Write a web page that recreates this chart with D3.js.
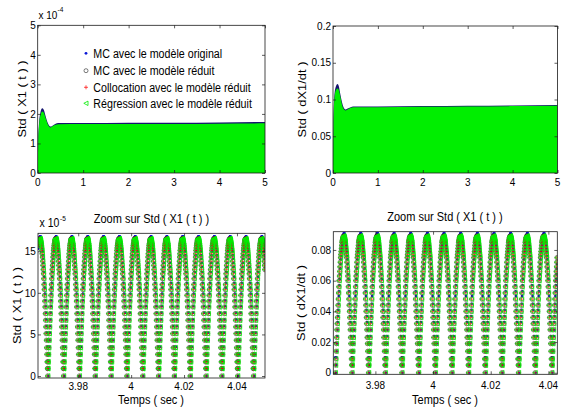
<!DOCTYPE html>
<html><head><meta charset="utf-8">
<script src="https://cdn.jsdelivr.net/npm/d3@7"></script>
<style>
body{margin:0;background:#fff}
svg text{font-family:"Liberation Sans",Arial,Helvetica,sans-serif;fill:#000}
</style>
</head><body>
<svg id="c" width="569" height="410"></svg>
<script>
// ---------------- DATA ----------------
const legendLabels = ["MC avec le modèle original","MC avec le modèle réduit","Collocation avec le modèle réduit","Régression avec le modèle réduit"];
const titleZoom = "Zoom sur Std ( X1 ( t ) )";
const xLabel = "Temps ( sec )";
const yLabelX1 = "Std ( X1 ( t ) )";
const yLabelDX1 = "Std ( dX1/dt )";

// top panels: envelope of Std over 0..5 s
const envTime = [0,0.01,0.03,0.06,0.1,0.13,0.17,0.22,0.28,0.34,0.45,1,2,3,4,5];
const envX1Original = [0,1.0,1.7,2.05,2.19,2.15,1.95,1.7,1.57,1.62,1.69,1.69,1.70,1.70,1.71,1.73]; // x 1e-4
const envX1Reduit   = [0,0.9,1.6,1.95,2.08,2.05,1.88,1.65,1.54,1.6,1.65,1.66,1.66,1.66,1.67,1.68]; // x 1e-4
const envDX1Original = [0,0.065,0.105,0.117,0.121,0.118,0.105,0.092,0.0865,0.088,0.0905,0.0905,0.091,0.0915,0.092,0.0925];
const envDX1Reduit   = [0,0.06,0.1,0.112,0.115,0.113,0.102,0.089,0.085,0.087,0.0895,0.0895,0.09,0.0905,0.091,0.0915];

const topXTicks = [0,1,2,3,4,5];
const tlYTicks = [0,1,2,3,4,5];
const trYTicks = [0,0.05,0.1,0.15,0.2];
const zoomXTicks = [3.98,4,4.02,4.04];
const blYTicks = [0,50,100,150];   // x 1e-6  -> labelled in 1e-5
const brYTicks = [0,20,40,60,80];  // x 1e-3

// bottom-left zoom: Std(X1), sampled from t0 with step dt, values x 1e-6
const zoomX1T0 = 3.96488, zoomX1Dt = 0.0000997;
const zoomX1Original = [
153,157,160,162,164,166,167,168,168,168,167,166,164,162,160,157,153,150,145,141,136,131,125,119,112,106,99,91,84,76,68,60,52,43,35,26,18,9,
0,9,18,26,35,43,52,60,68,76,84,91,99,106,112,119,125,131,136,141,145,150,153,157,160,162,164,166,167,168,168,168,167,166,164,162,160,157,153,150,145,141,136,131,125,119,112,106,99,91,84,76,68,60,52,43,35,26,18,9,
0,9,18,26,35,43,52,60,68,76,84,91,99,106,112,119,125,131,136,141,145,150,153,157,160,162,164,166,167,168,168,168,167,166,164,162,160,157,153,150,145,141,136,131,125,119,112,106,99,91,84,76,68,60,52,43,35,26,18,9,
0,9,18,26,35,43,52,60,68,76,84,91,99,106,112,119,125,131,136,141,145,150,153,157,160,162,164,166,167,168,168,168,167,166,164,162,160,157,153,150,145,141,136,131,125,119,112,106,99,91,84,76,68,60,52,43,35,26,18,9,
0,9,18,26,35,43,52,60,68,76,84,91,99,106,112,119,125,131,136,141,145,150,153,157,160,162,164,166,167,168,168,168,167,166,164,162,160,157,153,150,145,141,136,131,125,119,112,106,99,91,84,76,68,60,52,43,35,26,18,9,
0,9,18,26,35,43,52,60,68,76,84,91,99,106,112,119,125,131,136,141,145,150,153,157,160,162,164,166,167,168,168,168,167,166,164,162,160,157,153,150,145,141,136,131,125,119,112,106,99,91,84,76,68,60,52,43,35,26,18,9,
0,9,18,26,35,43,52,60,68,76,84,91,99,106,112,119,125,131,136,141,145,150,153,157,160,162,164,166,167,168,168,168,167,166,164,162,160,157,153,150,145,141,136,131,125,119,112,106,99,91,84,76,68,60,52,43,35,26,18,9,
0,9,18,26,35,43,52,60,68,76,84,91,99,106,112,119,125,131,136,141,145,150,153,157,160,162,164,166,167,168,168,168,167,166,164,162,160,157,153,150,145,141,136,131,125,119,112,106,99,91,84,76,68,60,52,43,35,26,18,9,
0,9,18,26,35,43,52,60,68,76,84,91,99,106,112,119,125,131,136,141,145,150,153,157,160,162,164,166,167,168,168,168,167,166,164,162,160,157,153,150,145,141,136,131,125,119,112,106,99,91,84,76,68,60,52,43,35,26,18,9,
0,9,18,26,35,43,52,60,68,76,84,91,99,106,112,119,125,131,136,141,145,150,153,157,160,162,164,166,167,168,168,168,167,166,164,162,160,157,153,150,145,141,136,131,125,119,112,106,99,91,84,76,68,60,52,43,35,26,18,9,
0,9,18,26,35,43,52,60,68,76,84,91,99,106,112,119,125,131,136,141,145,150,153,157,160,162,164,166,167,168,168,168,167,166,164,162,160,157,153,150,145,141,136,131,125,119,112,106,99,91,84,76,68,60,52,43,35,26,18,9,
0,9,18,26,35,43,52,60,68,76,84,91,99,106,112,119,125,131,136,141,145,150,153,157,160,162,164,166,167,168,168,168,167,166,164,162,160,157,153,150,145,141,136,131,125,119,112,106,99,91,84,76,68,60,52,43,35,26,18,9,
0,9,18,26,35,43,52,60,68,76,84,91,99,106,112,119,125,131,136,141,145,150,153,157,160,162,164,166,167,168,168,168,167,166,164,162,160,157,153,150,145,141,136,131,125,119,112,106,99,91,84,76,68,60,52,43,35,26,18,9,
0,9,18,26,35,43,52,60,68,76,84,91,99,106,112,119,125,131,136,141,145,150,153,157,160,162,164,166,167,168,168,168,167,166,164,162,160,157,153,150,145,141,136,131,125,119,112,106,99,91,84,76,68,60,52,43,35,26,18,9,
0,9,18,26,35,43,52,60,68,76,84,91,99,106,112,119,125,131,136,141,145,150,153,157,160,162,164,166,167,168,168,168,167,166,164,162,160,157,153,150,145,141];
// MC réduit, Collocation and Régression coincide on the picture
const zoomX1Reduit = [
157,159,161,163,164,165,165,165,164,163,161,159,157,154,151,147,143,138,133,128,123,117,110,104,97,90,83,75,67,59,51,43,34,26,17,9,
0,9,17,26,34,43,51,59,67,75,83,90,97,104,110,117,123,128,133,138,143,147,151,154,157,159,161,163,164,165,165,165,164,163,161,159,157,154,151,147,143,138,133,128,123,117,110,104,97,90,83,75,67,59,51,43,34,26,17,9,
0,9,17,26,34,43,51,59,67,75,83,90,97,104,110,117,123,128,133,138,143,147,151,154,157,159,161,163,164,165,165,165,164,163,161,159,157,154,151,147,143,138,133,128,123,117,110,104,97,90,83,75,67,59,51,43,34,26,17,9,
0,9,17,26,34,43,51,59,67,75,83,90,97,104,110,117,123,128,133,138,143,147,151,154,157,159,161,163,164,165,165,165,164,163,161,159,157,154,151,147,143,138,133,128,123,117,110,104,97,90,83,75,67,59,51,43,34,26,17,9,
0,9,17,26,34,43,51,59,67,75,83,90,97,104,110,117,123,128,133,138,143,147,151,154,157,159,161,163,164,165,165,165,164,163,161,159,157,154,151,147,143,138,133,128,123,117,110,104,97,90,83,75,67,59,51,43,34,26,17,9,
0,9,17,26,34,43,51,59,67,75,83,90,97,104,110,117,123,128,133,138,143,147,151,154,157,159,161,163,164,165,165,165,164,163,161,159,157,154,151,147,143,138,133,128,123,117,110,104,97,90,83,75,67,59,51,43,34,26,17,9,
0,9,17,26,34,43,51,59,67,75,83,90,97,104,110,117,123,128,133,138,143,147,151,154,157,159,161,163,164,165,165,165,164,163,161,159,157,154,151,147,143,138,133,128,123,117,110,104,97,90,83,75,67,59,51,43,34,26,17,9,
0,9,17,26,34,43,51,59,67,75,83,90,97,104,110,117,123,128,133,138,143,147,151,154,157,159,161,163,164,165,165,165,164,163,161,159,157,154,151,147,143,138,133,128,123,117,110,104,97,90,83,75,67,59,51,43,34,26,17,9,
0,9,17,26,34,43,51,59,67,75,83,90,97,104,110,117,123,128,133,138,143,147,151,154,157,159,161,163,164,165,165,165,164,163,161,159,157,154,151,147,143,138,133,128,123,117,110,104,97,90,83,75,67,59,51,43,34,26,17,9,
0,9,17,26,34,43,51,59,67,75,83,90,97,104,110,117,123,128,133,138,143,147,151,154,157,159,161,163,164,165,165,165,164,163,161,159,157,154,151,147,143,138,133,128,123,117,110,104,97,90,83,75,67,59,51,43,34,26,17,9,
0,9,17,26,34,43,51,59,67,75,83,90,97,104,110,117,123,128,133,138,143,147,151,154,157,159,161,163,164,165,165,165,164,163,161,159,157,154,151,147,143,138,133,128,123,117,110,104,97,90,83,75,67,59,51,43,34,26,17,9,
0,9,17,26,34,43,51,59,67,75,83,90,97,104,110,117,123,128,133,138,143,147,151,154,157,159,161,163,164,165,165,165,164,163,161,159,157,154,151,147,143,138,133,128,123,117,110,104,97,90,83,75,67,59,51,43,34,26,17,9,
0,9,17,26,34,43,51,59,67,75,83,90,97,104,110,117,123,128,133,138,143,147,151,154,157,159,161,163,164,165,165,165,164,163,161,159,157,154,151,147,143,138,133,128,123,117,110,104,97,90,83,75,67,59,51,43,34,26,17,9,
0,9,17,26,34,43,51,59,67,75,83,90,97,104,110,117,123,128,133,138,143,147,151,154,157,159,161,163,164,165,165,165,164,163,161,159,157,154,151,147,143,138,133,128,123,117,110,104,97,90,83,75,67,59,51,43,34,26,17,9,
0,9,17,26,34,43,51,59,67,75,83,90,97,104,110,117,123,128,133,138,143,147,151,154,157,159,161,163,164,165,165,165,164,163,161,159,157,154,151,147,143,138,133,128];

// bottom-right zoom: Std(dX1/dt), values x 1e-3
const zoomDX1T0 = 3.96608, zoomDX1Dt = 0.0000963;
const zoomDX1Original = [
10,5,
0,5,10,14,19,24,28,33,37,41,45,50,53,57,61,64,68,71,74,76,79,81,83,85,87,88,89,90,90,91,91,91,90,90,89,88,87,85,83,81,79,76,74,71,68,64,61,57,53,50,45,41,37,33,28,24,19,14,10,5,
0,5,10,14,19,24,28,33,37,41,45,50,53,57,61,64,68,71,74,76,79,81,83,85,87,88,89,90,90,91,91,91,90,90,89,88,87,85,83,81,79,76,74,71,68,64,61,57,53,50,45,41,37,33,28,24,19,14,10,5,
0,5,10,14,19,24,28,33,37,41,45,50,53,57,61,64,68,71,74,76,79,81,83,85,87,88,89,90,90,91,91,91,90,90,89,88,87,85,83,81,79,76,74,71,68,64,61,57,53,50,45,41,37,33,28,24,19,14,10,5,
0,5,10,14,19,24,28,33,37,41,45,50,53,57,61,64,68,71,74,76,79,81,83,85,87,88,89,90,90,91,91,91,90,90,89,88,87,85,83,81,79,76,74,71,68,64,61,57,53,50,45,41,37,33,28,24,19,14,10,5,
0,5,10,14,19,24,28,33,37,41,45,50,53,57,61,64,68,71,74,76,79,81,83,85,87,88,89,90,90,91,91,91,90,90,89,88,87,85,83,81,79,76,74,71,68,64,61,57,53,50,45,41,37,33,28,24,19,14,10,5,
0,5,10,14,19,24,28,33,37,41,45,50,53,57,61,64,68,71,74,76,79,81,83,85,87,88,89,90,90,91,91,91,90,90,89,88,87,85,83,81,79,76,74,71,68,64,61,57,53,50,45,41,37,33,28,24,19,14,10,5,
0,5,10,14,19,24,28,33,37,41,45,50,53,57,61,64,68,71,74,76,79,81,83,85,87,88,89,90,90,91,91,91,90,90,89,88,87,85,83,81,79,76,74,71,68,64,61,57,53,50,45,41,37,33,28,24,19,14,10,5,
0,5,10,14,19,24,28,33,37,41,45,50,53,57,61,64,68,71,74,76,79,81,83,85,87,88,89,90,90,91,91,91,90,90,89,88,87,85,83,81,79,76,74,71,68,64,61,57,53,50,45,41,37,33,28,24,19,14,10,5,
0,5,10,14,19,24,28,33,37,41,45,50,53,57,61,64,68,71,74,76,79,81,83,85,87,88,89,90,90,91,91,91,90,90,89,88,87,85,83,81,79,76,74,71,68,64,61,57,53,50,45,41,37,33,28,24,19,14,10,5,
0,5,10,14,19,24,28,33,37,41,45,50,53,57,61,64,68,71,74,76,79,81,83,85,87,88,89,90,90,91,91,91,90,90,89,88,87,85,83,81,79,76,74,71,68,64,61,57,53,50,45,41,37,33,28,24,19,14,10,5,
0,5,10,14,19,24,28,33,37,41,45,50,53,57,61,64,68,71,74,76,79,81,83,85,87,88,89,90,90,91,91,91,90,90,89,88,87,85,83,81,79,76,74,71,68,64,61,57,53,50,45,41,37,33,28,24,19,14,10,5,
0,5,10,14,19,24,28,33,37,41,45,50,53,57,61,64,68,71,74,76,79,81,83,85,87,88,89,90,90,91,91,91,90,90,89,88,87,85,83,81,79,76,74,71,68,64,61,57,53,50,45,41,37,33,28,24,19,14,10,5,
0,5,10,14,19,24,28,33,37,41,45,50,53,57,61,64,68,71,74,76,79,81,83,85,87,88,89,90,90,91,91,91,90,90,89,88,87,85,83,81,79,76,74,71,68,64,61,57,53,50,45,41,37,33,28,24,19,14,10,5,
0,5,10,14,19,24,28,33,37,41,45,50,53,57,61,64,68,71];
const zoomDX1Reduit = [
0,5,9,14,19,23,28,32,36,40,44,48,52,56,60,63,66,69,72,75,77,79,81,83,85,86,87,88,88,89,89,89,88,88,87,86,85,83,81,79,77,75,72,69,66,63,60,56,52,48,44,40,36,32,28,23,19,14,9,5,
0,5,9,14,19,23,28,32,36,40,44,48,52,56,60,63,66,69,72,75,77,79,81,83,85,86,87,88,88,89,89,89,88,88,87,86,85,83,81,79,77,75,72,69,66,63,60,56,52,48,44,40,36,32,28,23,19,14,9,5,
0,5,9,14,19,23,28,32,36,40,44,48,52,56,60,63,66,69,72,75,77,79,81,83,85,86,87,88,88,89,89,89,88,88,87,86,85,83,81,79,77,75,72,69,66,63,60,56,52,48,44,40,36,32,28,23,19,14,9,5,
0,5,9,14,19,23,28,32,36,40,44,48,52,56,60,63,66,69,72,75,77,79,81,83,85,86,87,88,88,89,89,89,88,88,87,86,85,83,81,79,77,75,72,69,66,63,60,56,52,48,44,40,36,32,28,23,19,14,9,5,
0,5,9,14,19,23,28,32,36,40,44,48,52,56,60,63,66,69,72,75,77,79,81,83,85,86,87,88,88,89,89,89,88,88,87,86,85,83,81,79,77,75,72,69,66,63,60,56,52,48,44,40,36,32,28,23,19,14,9,5,
0,5,9,14,19,23,28,32,36,40,44,48,52,56,60,63,66,69,72,75,77,79,81,83,85,86,87,88,88,89,89,89,88,88,87,86,85,83,81,79,77,75,72,69,66,63,60,56,52,48,44,40,36,32,28,23,19,14,9,5,
0,5,9,14,19,23,28,32,36,40,44,48,52,56,60,63,66,69,72,75,77,79,81,83,85,86,87,88,88,89,89,89,88,88,87,86,85,83,81,79,77,75,72,69,66,63,60,56,52,48,44,40,36,32,28,23,19,14,9,5,
0,5,9,14,19,23,28,32,36,40,44,48,52,56,60,63,66,69,72,75,77,79,81,83,85,86,87,88,88,89,89,89,88,88,87,86,85,83,81,79,77,75,72,69,66,63,60,56,52,48,44,40,36,32,28,23,19,14,9,5,
0,5,9,14,19,23,28,32,36,40,44,48,52,56,60,63,66,69,72,75,77,79,81,83,85,86,87,88,88,89,89,89,88,88,87,86,85,83,81,79,77,75,72,69,66,63,60,56,52,48,44,40,36,32,28,23,19,14,9,5,
0,5,9,14,19,23,28,32,36,40,44,48,52,56,60,63,66,69,72,75,77,79,81,83,85,86,87,88,88,89,89,89,88,88,87,86,85,83,81,79,77,75,72,69,66,63,60,56,52,48,44,40,36,32,28,23,19,14,9,5,
0,5,9,14,19,23,28,32,36,40,44,48,52,56,60,63,66,69,72,75,77,79,81,83,85,86,87,88,88,89,89,89,88,88,87,86,85,83,81,79,77,75,72,69,66,63,60,56,52,48,44,40,36,32,28,23,19,14,9,5,
0,5,9,14,19,23,28,32,36,40,44,48,52,56,60,63,66,69,72,75,77,79,81,83,85,86,87,88,88,89,89,89,88,88,87,86,85,83,81,79,77,75,72,69,66,63,60,56,52,48,44,40,36,32,28,23,19,14,9,5,
0,5,9,14,19,23,28,32,36,40,44,48,52,56,60,63,66,69,72,75,77,79,81,83,85,86,87,88,88,89,89,89,88,88,87,86,85,83,81,79,77,75,72,69,66,63,60,56,52,48,44,40,36,32,28,23,19,14,9,5,
0,5,9,14,19,23,28,32,36,40,44,48,52,56,60,63,66,69,72,75];

// ---------------- DRAWING ----------------
const svg = d3.select("#c");
const BLUE = "#0a16d6", GREEN = "#00ee00", NAVY = "#14146e";

function hText(g, x, y, s, size, anchor) {
  return g.append("text").attr("transform", `translate(${x},${y}) scale(1,1.15)`)
    .attr("font-size", size).attr("text-anchor", anchor || "middle").text(s);
}
function vText(g, x, y, s, size) {
  return g.append("text").attr("transform", `translate(${x},${y}) rotate(-90) scale(1.17,1)`)
    .attr("font-size", size).attr("text-anchor", "middle").text(s);
}

function panel(c) {
  const x = d3.scaleLinear().domain(c.xd).range([c.x0, c.x1]);
  const y = d3.scaleLinear().domain(c.yd).range([c.y0, c.y1]);
  const g = svg.append("g");
  const cid = "clip-" + c.id;
  svg.append("clipPath").attr("id", cid).append("rect")
    .attr("x", c.x0).attr("y", c.y1).attr("width", c.x1 - c.x0).attr("height", c.y0 - c.y1);
  const plot = g.append("g").attr("clip-path", `url(#${cid})`);
  c.draw(plot, x, y);
  // box
  g.append("rect").attr("x", c.x0).attr("y", c.y1).attr("width", c.x1 - c.x0).attr("height", c.y0 - c.y1)
    .attr("fill", "none").attr("stroke", "#1a1a1a").attr("stroke-width", 0.8);
  // inward ticks on all four sides
  const ax = [
    [d3.axisBottom(x).tickValues(c.xt), `translate(0,${c.y0})`],
    [d3.axisTop(x).tickValues(c.xt), `translate(0,${c.y1})`],
    [d3.axisLeft(y).tickValues(c.yt), `translate(${c.x0},0)`],
    [d3.axisRight(y).tickValues(c.yt), `translate(${c.x1},0)`]
  ];
  ax.forEach(([a, tr]) => {
    const ag = g.append("g").attr("transform", tr).call(a.tickSize(-3).tickFormat(""));
    ag.select(".domain").remove();
    ag.selectAll("line").attr("stroke", "#1a1a1a").attr("stroke-width", 0.7);
    ag.selectAll("text").remove();
  });
  // tick labels
  c.xt.forEach(v => hText(g, x(v), c.xlabY, c.xfmt(v), 10, "middle"));
  c.yt.forEach(v => hText(g, c.ylabX, y(v) + 3.7, c.yfmt(v), 10, "end"));
  return {x, y, g};
}

function drawEnvelope(plot, x, y, orig, red) {
  const area = vals => d3.area().x((d, i) => x(envTime[i])).y0(y(0)).y1(d => y(d)).curve(d3.curveMonotoneX)(vals);
  plot.append("path").attr("d", area(orig)).attr("fill", NAVY);
  plot.append("path").attr("d", area(red)).attr("fill", GREEN);
}

function drawMarkers(plot, x, y, t0, dt, orig, red) {
  const px = i => x(t0 + i * dt);
  plot.append("g").selectAll("circle").data(orig).join("circle")
    .attr("cx", (d, i) => px(i)).attr("cy", d => y(d)).attr("r", 1.3).attr("fill", BLUE);
  plot.append("g").selectAll("circle").data(red).join("circle")
    .attr("cx", (d, i) => px(i)).attr("cy", d => y(d)).attr("r", 2.2).attr("fill", "none")
    .attr("stroke", "#2a2a2a").attr("stroke-width", 0.55);
  plot.append("g").selectAll("path").data(red).join("path")
    .attr("d", (d, i) => `M${px(i) - 2.2},${y(d)}h4.4M${px(i)},${y(d) - 2.2}v4.4`)
    .attr("stroke", "#ff0000").attr("stroke-width", 0.6);
  plot.append("g").selectAll("path").data(red).join("path")
    .attr("d", (d, i) => { const cx = px(i), cy = y(d); return `M${cx - 2.4},${cy}L${cx + 2.2},${cy - 2.4}L${cx + 2.2},${cy + 2.4}Z`; })
    .attr("fill", "none").attr("stroke", GREEN).attr("stroke-width", 0.75);
}

const fmtZoomX = v => v === 4 ? "4" : v.toFixed(2);

// top-left
const TL = panel({id:"tl", x0:37.7, x1:265, y0:173, y1:25.3, xd:[0,5], yd:[0,5],
  xt:topXTicks, yt:tlYTicks, xfmt:v=>String(v), yfmt:v=>String(v), xlabY:185.5, ylabX:35.8,
  draw:(p,x,y)=>drawEnvelope(p,x,y,envX1Original,envX1Reduit)});
// top-right
const TR = panel({id:"tr", x0:333, x1:557.5, y0:173, y1:26, xd:[0,5], yd:[0,0.2],
  xt:topXTicks, yt:trYTicks, xfmt:v=>String(v), yfmt:v=>String(v), xlabY:185.5, ylabX:331,
  draw:(p,x,y)=>drawEnvelope(p,x,y,envDX1Original,envDX1Reduit)});
// bottom-left
const BL = panel({id:"bl", x0:38, x1:265, y0:378, y1:233.3, xd:[3.9648,4.0506], yd:[-2.4,171.6],
  xt:zoomXTicks, yt:blYTicks, xfmt:fmtZoomX, yfmt:v=>String(v/10), xlabY:390, ylabX:35.8,
  draw:(p,x,y)=>drawMarkers(p,x,y,zoomX1T0,zoomX1Dt,zoomX1Original,zoomX1Reduit)});
// bottom-right
const BR = panel({id:"br", x0:333.3, x1:557.3, y0:374.3, y1:231.7, xd:[3.9654,4.0431], yd:[-1,91.9],
  xt:zoomXTicks, yt:brYTicks, xfmt:fmtZoomX, yfmt:v=>String(v/1000), xlabY:389, ylabX:331,
  draw:(p,x,y)=>drawMarkers(p,x,y,zoomDX1T0,zoomDX1Dt,zoomDX1Original,zoomDX1Reduit)});

// axis labels / titles
const L = svg.append("g");
vText(L, 25.5, 99, yLabelX1, 11);
vText(L, 305.5, 99.5, yLabelDX1, 11);
vText(L, 20.5, 305.5, yLabelX1, 11);
vText(L, 305, 303, yLabelDX1, 11);
hText(L, 151.5, 222.5, titleZoom, 11);
hText(L, 445, 220.5, titleZoom, 11);
hText(L, 151, 403.5, xLabel, 11);
hText(L, 445, 404, xLabel, 11);
// exponent labels
hText(L, 38.5, 18.6, "x 10", 10, "start");
hText(L, 57.5, 11.5, "-4", 6.5, "start");
hText(L, 39.5, 226.7, "x 10", 10.5, "start");
hText(L, 60, 220.5, "-5", 6.5, "start");

// legend (no border)
const legY = [53.3, 70.7, 87.3, 103.3];
const lg = svg.append("g");
const mx = 86;
lg.append("circle").attr("cx", mx).attr("cy", legY[0]).attr("r", 1.4).attr("fill", BLUE);
lg.append("circle").attr("cx", mx).attr("cy", legY[1]).attr("r", 2).attr("fill", "none").attr("stroke", "#222").attr("stroke-width", 0.6);
lg.append("path").attr("d", `M${mx-2},${legY[2]}h4M${mx},${legY[2]-2}v4`).attr("stroke", "#ff0000").attr("stroke-width", 0.7);
lg.append("path").attr("d", `M${mx-2.2},${legY[3]}L${mx+2},${legY[3]-2.2}L${mx+2},${legY[3]+2.2}Z`).attr("fill", "none").attr("stroke", GREEN).attr("stroke-width", 0.8);
legendLabels.forEach((s, i) => hText(lg, 93.3, legY[i] + 4.3, s, 10.7, "start"));
</script>
</body></html>
